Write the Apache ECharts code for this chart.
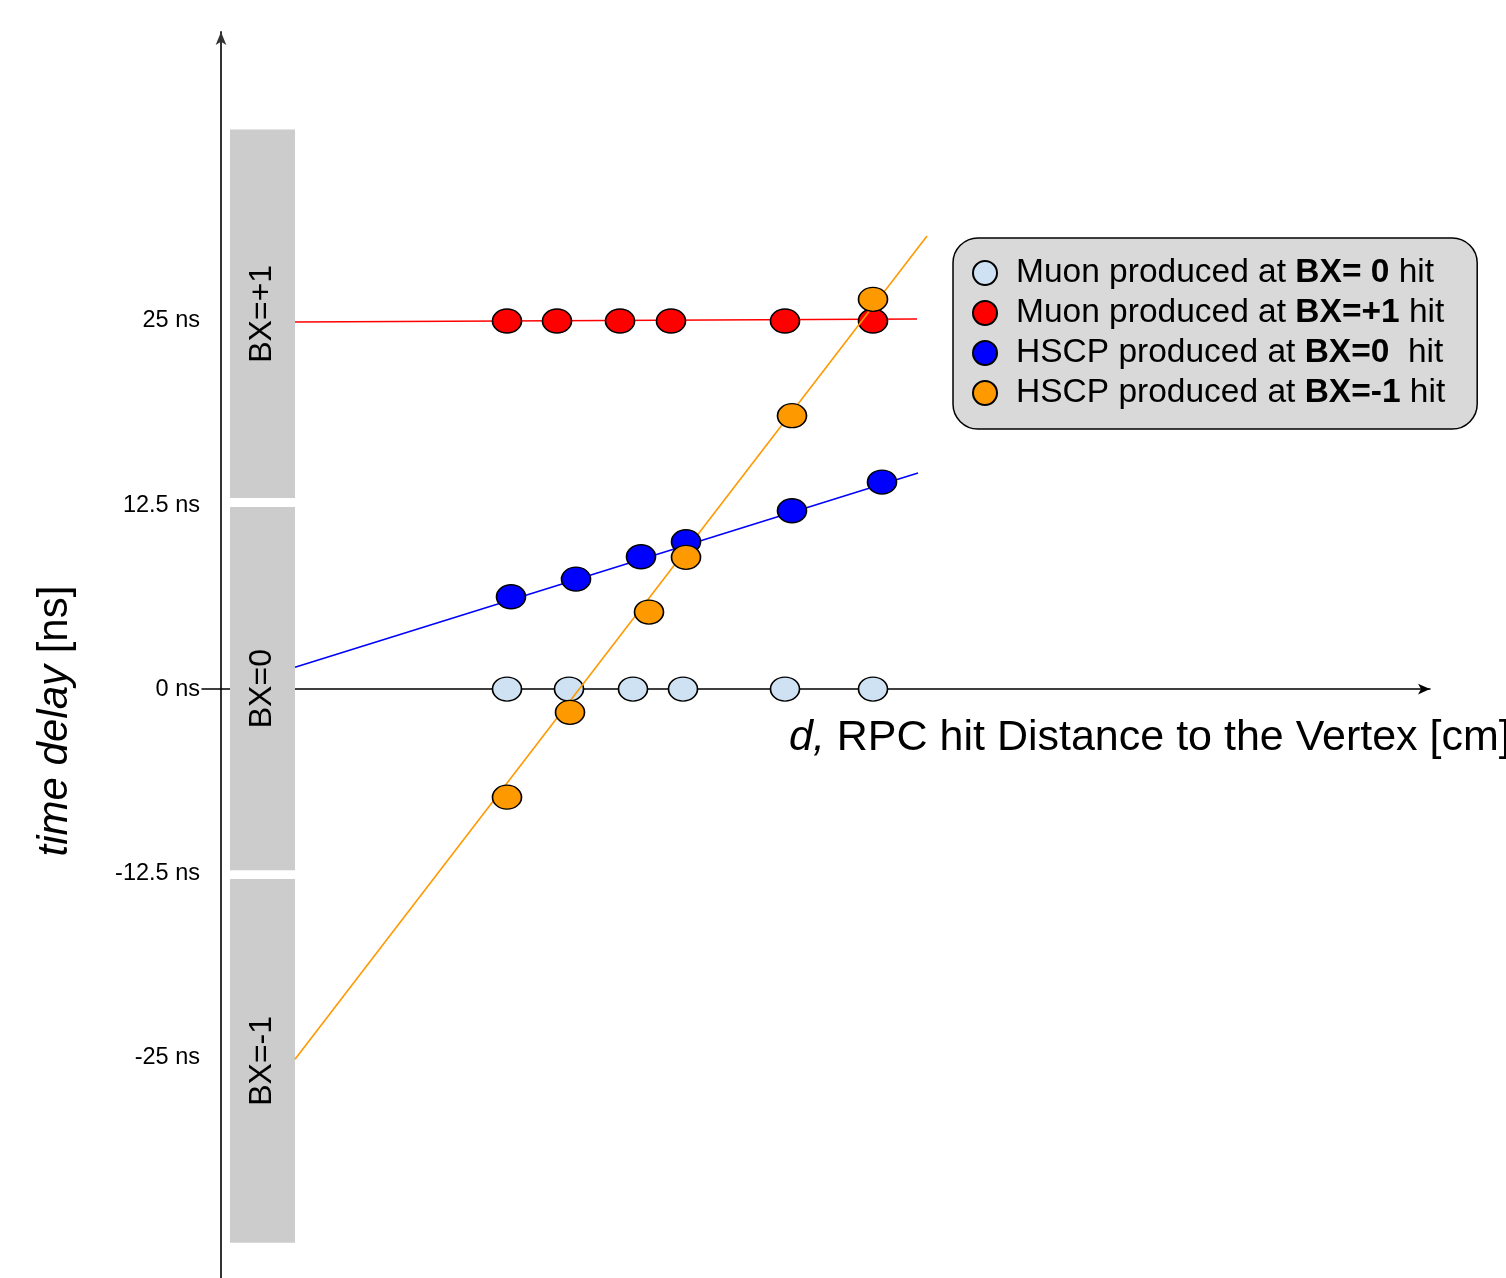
<!DOCTYPE html>
<html>
<head>
<meta charset="UTF-8">
<title>RPC hit time delay</title>
<style>
  html, body { margin: 0; padding: 0; background: #fff; }
  #main { width: 1506px; height: 1278px; }
</style>
</head>
<body>
<div id="main"></div>
<script src="https://cdn.jsdelivr.net/npm/echarts@6/dist/echarts.min.js"></script>
<script>
// hit positions, x in cm (schematic), y = time delay in ns
var muonBx0X = [143, 174, 206, 231, 282, 326];
var muonBx0Y = [0, 0, 0, 0, 0, 0];
var muonBx1X = [143, 168, 199.5, 225, 282, 326];
var muonBx1Y = [25, 25, 25, 25, 25, 25];
var hscpBx0X = [145, 177.5, 210, 232.5, 285.5, 330.5];
var hscpBx0Y = [6.27, 7.47, 8.99, 10.01, 12.11, 14.06];
var hscpBxm1X = [143, 174.5, 214, 232.5, 285.5, 326];
var hscpBxm1Y = [-7.34, -1.58, 5.23, 8.95, 18.57, 26.47];

// fitted lines (start / end points)
var fitBx1X = [37, 348];
var fitBx1Y = [24.93, 25.14];
var fitBx0X = [37, 348.5];
var fitBx0Y = [1.49, 14.67];
var fitBxm1X = [37, 353];
var fitBxm1Y = [-25.14, 30.77];

// bunch crossing windows
var bandNames = ['BX=+1', 'BX=0', 'BX=-1'];
var bandTop = [38, 12.36, -12.9];
var bandBottom = [12.98, -12.3, -37.6];
var bandX = [4.5, 37];

var yTicks = [-25, -12.5, 0, 12.5, 25];

var seriesNames = ['Muon produced at BX= 0 hit', 'Muon produced at BX=+1 hit',
                   'HSCP produced at BX=0  hit', 'HSCP produced at BX=-1 hit'];
var namePrefix = ['Muon produced at ', 'Muon produced at ', 'HSCP produced at ', 'HSCP produced at '];
var nameBold = ['BX= 0', 'BX=+1', 'BX=0', 'BX=-1'];
var nameSuffix = [' hit', ' hit', '  hit', ' hit'];
var colors = ['#cfe2f3', '#ff0000', '#0000ff', '#ff9900'];

function zip(xs, ys) {
    var out = [];
    for (var i = 0; i < xs.length; i++) out.push([xs[i], ys[i]]);
    return out;
}

var FONT = '"Liberation Sans", Arial, sans-serif';

var bandData = [];
for (var b = 0; b < bandNames.length; b++) {
    bandData.push([
        {name: bandNames[b], coord: [bandX[0], bandTop[b]]},
        {coord: [bandX[1], bandBottom[b]]}
    ]);
}

function scatter(i, xs, ys) {
    return {
        name: seriesNames[i],
        type: 'scatter',
        data: zip(xs, ys),
        symbol: 'circle',
        symbolSize: [29, 24],
        itemStyle: {color: colors[i], borderColor: '#000', borderWidth: 1.5, opacity: 1},
        z: 3 + i,
        silent: true
    };
}

function fitLine(color, xs, ys, z) {
    return {
        type: 'line',
        data: zip(xs, ys),
        symbol: 'none',
        lineStyle: {color: color, width: 1.6},
        z: z,
        silent: true
    };
}

var myChart = echarts.init(document.getElementById('main'));

var option = {
    animation: false,
    backgroundColor: '#fff',
    grid: {left: 202, top: 32, width: 1228, height: 1246},
    xAxis: {
        type: 'value',
        min: -9.5,
        max: 604.5,
        axisLine: {
            onZero: true,
            symbol: ['none', 'arrow'],
            symbolSize: [8, 12],
            lineStyle: {color: '#000', width: 1.5}
        },
        axisTick: {show: false},
        axisLabel: {show: false},
        splitLine: {show: false}
    },
    yAxis: {
        type: 'value',
        min: -40,
        max: 44.63,
        axisLine: {
            onZero: true,
            symbol: ['none', 'arrow'],
            symbolSize: [8, 13],
            lineStyle: {color: '#333', width: 2}
        },
        axisTick: {show: false},
        splitLine: {show: false},
        axisLabel: {
            customValues: yTicks,
            margin: 2,
            color: '#000',
            fontFamily: FONT,
            fontSize: 23.5,
            formatter: function (v) { return v + ' ns'; }
        }
    },
    legend: {
        data: seriesNames,
        orient: 'vertical',
        left: 953,
        top: 238,
        itemWidth: 28,
        itemHeight: 24,
        itemGap: 6,
        padding: [18, 32, 19, 19],
        backgroundColor: '#d9d9d9',
        borderColor: '#000',
        borderWidth: 1.5,
        borderRadius: 25,
        selectedMode: false,
        textStyle: {
            color: '#000',
            fontFamily: FONT,
            fontSize: 33.5,
            lineHeight: 34,
            padding: [0, 0, 0, 12],
            rich: {
                n: {fontFamily: FONT, fontSize: 33.5, color: '#000'},
                b: {fontFamily: FONT, fontSize: 33.5, fontWeight: 'bold', color: '#000'}
            }
        },
        formatter: function (name) {
            var i = seriesNames.indexOf(name);
            return '{n|' + namePrefix[i] + '}{b|' + nameBold[i] + '}{n|' + nameSuffix[i] + '}';
        }
    },
    graphic: [
        {
            type: 'text',
            x: 55,
            y: 721,
            rotation: Math.PI / 2,
            style: {
                text: '{i|time delay }{n|[ns]}',
                align: 'center',
                verticalAlign: 'middle',
                rich: {
                    i: {fontFamily: FONT, fontSize: 42, fontStyle: 'italic', fill: '#000'},
                    n: {fontFamily: FONT, fontSize: 42, fill: '#000'}
                }
            }
        },
        {
            type: 'text',
            left: 789,
            top: 717,
            style: {
                text: '{i|d, }{n|RPC hit Distance to the Vertex [cm]}',
                rich: {
                    i: {fontFamily: FONT, fontSize: 43, fontStyle: 'italic', fill: '#000'},
                    n: {fontFamily: FONT, fontSize: 43, fill: '#000'}
                }
            }
        }
    ],
    series: [
        {
            type: 'line',
            data: [],
            silent: true,
            markArea: {
                silent: true,
                itemStyle: {color: '#cccccc'},
                label: {
                    show: true,
                    position: 'inside',
                    rotate: 90,
                    color: '#000',
                    fontFamily: FONT,
                    fontSize: 32
                },
                data: bandData
            },
            z: 1
        },
        scatter(0, muonBx0X, muonBx0Y),
        fitLine(colors[1], fitBx1X, fitBx1Y, 2),
        scatter(1, muonBx1X, muonBx1Y),
        fitLine(colors[2], fitBx0X, fitBx0Y, 2),
        scatter(2, hscpBx0X, hscpBx0Y),
        fitLine(colors[3], fitBxm1X, fitBxm1Y, 5),
        scatter(3, hscpBxm1X, hscpBxm1Y)
    ]
};

myChart.setOption(option);
</script>
</body>
</html>
